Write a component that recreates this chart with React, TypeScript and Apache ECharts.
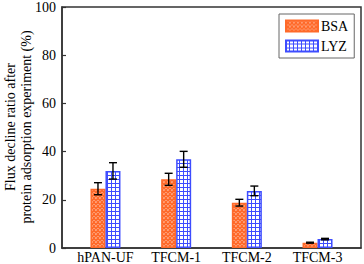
import React, { useEffect, useRef } from "react";
import * as echarts from "echarts";

const categories = ["hPAN-UF", "TFCM-1", "TFCM-2", "TFCM-3"];
const bsaValues = [24.6, 28.5, 18.8, 2.2];
const bsaErrors = [2.5, 2.5, 1.4, 0.2];
const lyzValues = [32.0, 36.8, 23.7, 3.7];
const lyzErrors = [3.4, 3.3, 2.0, 0.3];
const yTicks = [0, 20, 40, 60, 80, 100];
const titleLines = ["Flux decline ratio after", "protein adsorption experiment (%)"];

const ORANGE = "#ff6a2a";
const BLUE = "#3d4cff";
const FONT = "Liberation Serif";

function makePattern(kind: "cross" | "grid") {
  const c = document.createElement("canvas");
  c.width = 4;
  c.height = 4;
  const ctx = c.getContext("2d")!;
  ctx.fillStyle = "#ffffff";
  ctx.fillRect(0, 0, 4, 4);
  if (kind === "cross") {
    ctx.strokeStyle = ORANGE;
    ctx.lineWidth = 1.6;
    ctx.beginPath();
    ctx.moveTo(-1, -1); ctx.lineTo(5, 5);
    ctx.moveTo(5, -1); ctx.lineTo(-1, 5);
    ctx.stroke();
  } else {
    ctx.fillStyle = BLUE;
    ctx.fillRect(0, 3, 4, 1);
    ctx.fillRect(3, 0, 1, 4);
  }
  return { image: c, repeat: "repeat", imageWidth: 4, imageHeight: 4 } as any;
}

export default function App() {
  const ref = useRef<HTMLDivElement>(null);
  useEffect(() => {
    const chart = echarts.init(ref.current!, null, { renderer: "svg" });
    const xs = categories.map((_, i) => i + 1);
    const errData: any[] = [];
    xs.forEach((x, i) => {
      errData.push([x, bsaValues[i] - bsaErrors[i], bsaValues[i] + bsaErrors[i], -7.5]);
      errData.push([x, lyzValues[i] - lyzErrors[i], lyzValues[i] + lyzErrors[i], 7.5]);
    });
    chart.setOption({
      animation: false,
      grid: {
        left: 62, right: 3, top: 7, bottom: 16,
        outerBoundsMode: "none",
        containLabel: false,
        show: true, borderColor: "#333", borderWidth: 1.5, backgroundColor: "transparent",
      },
      legend: {
        orient: "vertical",
        left: 279, top: 14,
        padding: [5, 6, 5, 6],
        itemGap: 6,
        itemWidth: 32, itemHeight: 11,
        borderColor: "#666", borderWidth: 1,
        backgroundColor: "#fff",
        icon: "rect",
        textStyle: { fontFamily: FONT, fontSize: 14, color: "#000", padding: [0, 0, 0, -2] },
        data: ["BSA", "LYZ"],
      },
      xAxis: {
        type: "value",
        min: 0.385, max: 4.615,
        axisLine: { show: true, lineStyle: { color: "#333", width: 1.5 } },
        axisTick: { show: false },
        splitLine: { show: false },
        axisLabel: {
          customValues: xs,
          formatter: (v: number) => categories[Math.round(v) - 1] ?? "",
          fontFamily: FONT, fontSize: 14, lineHeight: 14, color: "#000", margin: 2,
        },
      },
      yAxis: {
        type: "value",
        min: 0, max: 100, interval: 20,
        axisLine: { show: true, lineStyle: { color: "#333", width: 1.5 } },
        axisTick: { show: true, inside: true, length: 4, lineStyle: { color: "#333", width: 1.2 } },
        splitLine: { show: false },
        axisLabel: {
          formatter: (v: number) => (yTicks.includes(v) ? String(v) : ""),
          fontFamily: FONT, fontSize: 14, color: "#000", margin: 6,
        },
      },
      graphic: titleLines.map((t, i) => ({
        type: "text",
        x: i === 0 ? 10 : 26,
        y: 127,
        rotation: Math.PI / 2,
        style: {
          text: t,
          fontFamily: FONT, fontSize: 14, fill: "#000",
          align: "center", verticalAlign: "middle",
        },
      })),
      series: [
        {
          name: "BSA", type: "bar", barWidth: 15, barGap: "0%",
          data: xs.map((x, i) => [x, bsaValues[i]]),
          itemStyle: { color: makePattern("cross"), borderColor: ORANGE, borderWidth: 1.5 },
        },
        {
          name: "LYZ", type: "bar", barWidth: 15, barGap: "0%",
          data: xs.map((x, i) => [x, lyzValues[i]]),
          itemStyle: { color: makePattern("grid"), borderColor: BLUE, borderWidth: 1.5 },
        },
        {
          type: "custom",
          z: 10,
          data: errData,
          encode: { x: 0, y: [1, 2] },
          renderItem: (params: any, api: any) => {
            const x = api.value(0);
            const lo = api.coord([x, api.value(1)]);
            const hi = api.coord([x, api.value(2)]);
            const cx = lo[0] + api.value(3);
            const hw = 4;
            const st = { stroke: "#000", lineWidth: 1.4 };
            return {
              type: "group",
              children: [
                { type: "line", shape: { x1: cx, y1: lo[1], x2: cx, y2: hi[1] }, style: st },
                { type: "line", shape: { x1: cx - hw, y1: lo[1], x2: cx + hw, y2: lo[1] }, style: st },
                { type: "line", shape: { x1: cx - hw, y1: hi[1], x2: cx + hw, y2: hi[1] }, style: st },
              ],
            };
          },
        },
      ],
    });
    return () => chart.dispose();
  }, []);
  return <div ref={ref} style={{ width: 364, height: 264, position: "absolute", left: 0, top: 0 }} />;
}
